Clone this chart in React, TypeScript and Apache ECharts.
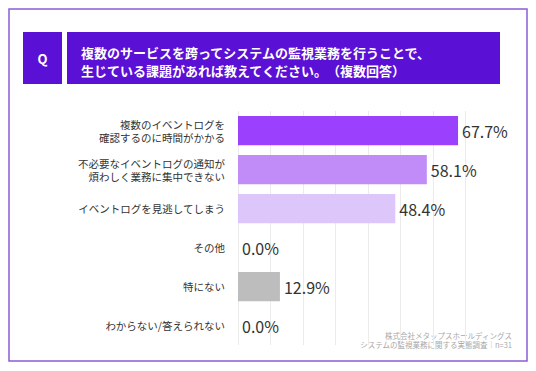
import React, { useEffect, useRef } from "react";
import * as echarts from "echarts";

const categories = [
  "複数のイベントログを\n確認するのに時間がかかる",
  "不必要なイベントログの通知が\n煩わしく業務に集中できない",
  "イベントログを見逃してしまう",
  "その他",
  "特にない",
  "わからない/答えられない",
];
const values = [67.7, 58.1, 48.4, 0.0, 12.9, 0.0];
const barColors = ["#9b40fc", "#c18cf8", "#dcc6fa", "#dcc6fa", "#bdbdbd", "#bdbdbd"];
const titleLines = [
  "複数のサービスを跨ってシステムの監視業務を行うことで、",
  "生じている課題があれば教えてください。　（複数回答）",
];
const sourceLines = ["株式会社メタップスホールディングス", "システムの監視業務に関する実態調査｜n=31"];

const FONT = "'Noto Sans CJK JP', 'Noto Sans', sans-serif";

export default function App() {
  const ref = useRef<HTMLDivElement>(null);
  useEffect(() => {
    if (!ref.current) return;
    const chart = echarts.init(ref.current, null, { renderer: "svg" });
    chart.setOption({
      animation: false,
      backgroundColor: "#ffffff",
      textStyle: { fontFamily: FONT },
      grid: { left: 238, right: 70.5, top: 111, bottom: 26, containLabel: false },
      xAxis: {
        type: "value",
        min: 0,
        max: 70,
        interval: 10,
        axisLabel: { show: false },
        axisLine: { show: false },
        axisTick: { show: false },
        splitLine: { show: true, lineStyle: { color: "#ebebeb", width: 1 } },
      },
      yAxis: {
        type: "category",
        inverse: true,
        data: categories,
        axisLine: { show: false },
        axisTick: { show: false },
        axisLabel: {
          color: "#333333",
          fontSize: 10.5,
          lineHeight: 13,
          margin: 13,
          align: "right",
          fontFamily: FONT,
        },
      },
      series: [
        {
          type: "bar",
          data: values.map((v, i) => ({ value: v, itemStyle: { color: barColors[i] } })),
          barCategoryGap: "25%",
          label: {
            show: true,
            position: "right",
            distance: 4,
            color: "#333333",
            fontSize: 16,
            fontFamily: FONT,
            formatter: (p: any) => Number(p.value).toFixed(1) + "%",
          },
        },
      ],
      graphic: [
        {
          type: "rect",
          shape: { x: 9, y: 9, width: 518, height: 352 },
          style: { fill: "none", stroke: "#8a5cd6", lineWidth: 1.5 },
          silent: true,
        },
        {
          type: "rect",
          shape: { x: 23, y: 32, width: 39, height: 52 },
          style: { fill: "#5b10d6" },
        },
        {
          type: "text",
          x: 42.5,
          y: 58,
          style: {
            text: "Q",
            fill: "#ffffff",
            fontSize: 13,
            fontWeight: "bold",
            fontFamily: FONT,
            align: "center",
            verticalAlign: "middle",
          },
        },
        {
          type: "rect",
          shape: { x: 67, y: 32, width: 433, height: 52 },
          style: { fill: "#5b10d6" },
        },
        {
          type: "text",
          x: 81,
          y: 61,
          style: {
            text: titleLines.join("\n"),
            fill: "#ffffff",
            fontSize: 13,
            lineHeight: 18,
            fontWeight: "bold",
            fontFamily: FONT,
            align: "left",
            verticalAlign: "middle",
          },
        },
        {
          type: "text",
          x: 512,
          y: 340,
          style: {
            text: sourceLines.join("\n"),
            fill: "#a8a8a8",
            fontSize: 7.5,
            lineHeight: 9.5,
            fontFamily: FONT,
            align: "right",
            verticalAlign: "middle",
          },
        },
      ],
    });
    return () => chart.dispose();
  }, []);
  return (
    <div
      ref={ref}
      style={{ position: "fixed", left: 0, top: 0, width: 536, height: 371 }}
    />
  );
}
